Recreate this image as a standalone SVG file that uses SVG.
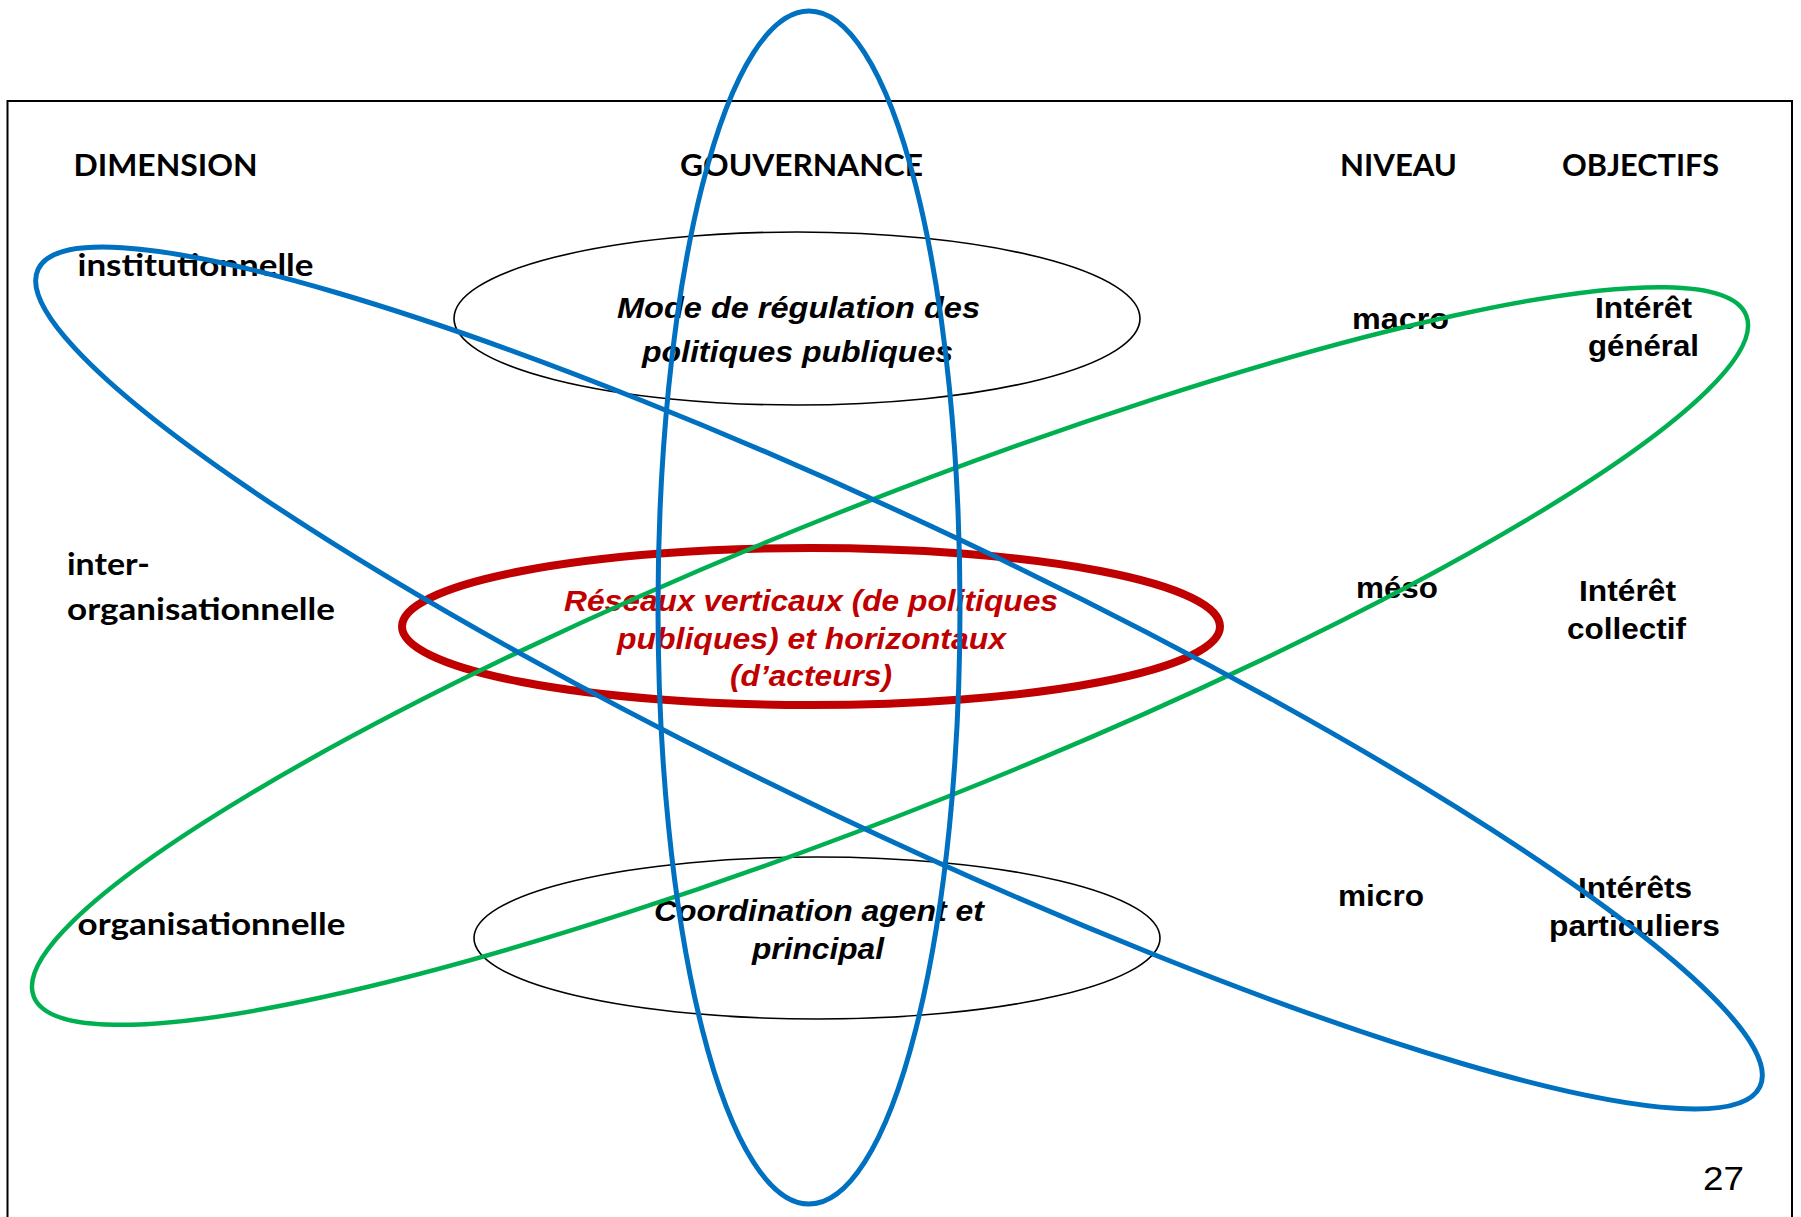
<svg xmlns="http://www.w3.org/2000/svg" width="1801" height="1217" viewBox="0 0 1801 1217">
<style>
.cal{font-family:Lato,"Open Sans","Liberation Sans",sans-serif;font-weight:bold;font-size:30px;fill:#000}
.ari{font-family:"Liberation Sans",Arial,sans-serif;font-weight:bold;font-size:30px;fill:#000}
.it{font-family:"Liberation Sans",Arial,sans-serif;font-weight:bold;font-style:italic;font-size:30px;fill:#000}
.red{fill:#C00000}
.thin{fill:none;stroke:#000;stroke-width:1.6}
.blue{fill:none;stroke:#0070C0;stroke-width:5}
.green{fill:none;stroke:#00B050;stroke-width:4.5}
</style>
<rect width="1801" height="1217" fill="#fff"/>
<path d="M7.5 1217 V101 H1792 V1217" fill="none" stroke="#000" stroke-width="2"/>

<g id="headers">
<text class="cal" x="73.5" y="176" textLength="184" lengthAdjust="spacingAndGlyphs">DIMENSION</text>
<text class="cal" x="680" y="176" textLength="243" lengthAdjust="spacingAndGlyphs">GOUVERNANCE</text>
<text class="cal" x="1340" y="176" textLength="117" lengthAdjust="spacingAndGlyphs">NIVEAU</text>
<text class="cal" x="1562" y="176" textLength="157" lengthAdjust="spacingAndGlyphs">OBJECTIFS</text>
</g>

<g id="dimensions">
<text class="cal" x="77.5" y="276" textLength="236" lengthAdjust="spacingAndGlyphs">institutionnelle</text>
<text class="cal" x="67" y="575" textLength="83" lengthAdjust="spacingAndGlyphs">inter-</text>
<text class="cal" x="67" y="620" textLength="268" lengthAdjust="spacingAndGlyphs">organisationnelle</text>
<text class="cal" x="77.5" y="935" textLength="268" lengthAdjust="spacingAndGlyphs">organisationnelle</text>
</g>

<g id="niveaux">
<text class="ari" x="1352" y="329" textLength="97" lengthAdjust="spacingAndGlyphs">macro</text>
<text class="ari" x="1356" y="598" textLength="82" lengthAdjust="spacingAndGlyphs">méso</text>
<text class="ari" x="1338" y="906" textLength="86" lengthAdjust="spacingAndGlyphs">micro</text>
</g>

<g id="objectifs">
<text class="ari" x="1595" y="318" textLength="97" lengthAdjust="spacingAndGlyphs">Intérêt</text>
<text class="ari" x="1588" y="356" textLength="111" lengthAdjust="spacingAndGlyphs">général</text>
<text class="ari" x="1579" y="601" textLength="97" lengthAdjust="spacingAndGlyphs">Intérêt</text>
<text class="ari" x="1567" y="639" textLength="119" lengthAdjust="spacingAndGlyphs">collectif</text>
<text class="ari" x="1578" y="898" textLength="114" lengthAdjust="spacingAndGlyphs">Intérêts</text>
<text class="ari" x="1549" y="936" textLength="171" lengthAdjust="spacingAndGlyphs">particuliers</text>
</g>

<g id="node-regulation">
<ellipse class="thin" cx="797" cy="318.5" rx="343" ry="86.5"/>
<text class="it" x="617" y="318" textLength="363" lengthAdjust="spacingAndGlyphs">Mode  de régulation des</text>
<text class="it" x="642" y="362" textLength="311" lengthAdjust="spacingAndGlyphs">politiques publiques</text>
</g>

<g id="node-coordination">
<ellipse class="thin" cx="817" cy="938" rx="343" ry="81"/>
<text class="it" x="654" y="921" textLength="330" lengthAdjust="spacingAndGlyphs">Coordination agent et</text>
<text class="it" x="752" y="959" textLength="132" lengthAdjust="spacingAndGlyphs">principal</text>
</g>

<g id="node-reseaux">
<ellipse cx="811" cy="626.5" rx="409" ry="78.5" fill="none" stroke="#C00000" stroke-width="8"/>
<text class="it red" x="564" y="611" textLength="494" lengthAdjust="spacingAndGlyphs">Réseaux verticaux (de politiques</text>
<text class="it red" x="617" y="649" textLength="389" lengthAdjust="spacingAndGlyphs">publiques) et horizontaux</text>
<text class="it red" x="730" y="686" textLength="162" lengthAdjust="spacingAndGlyphs">(d’acteurs)</text>
</g>

<g id="connectors">
<ellipse id="green-loop" class="green" cx="890" cy="656" rx="921.5" ry="152" transform="rotate(-21.7 890 656)"/>
<ellipse id="blue-diagonal" class="blue" cx="899" cy="678" rx="953" ry="151" transform="rotate(25.4 899 678)"/>
<ellipse id="blue-vertical" class="blue" cx="809" cy="607.5" rx="151" ry="596.5"/>
</g>

<g id="page-number">
<text x="1703" y="1190" font-family="'Liberation Sans',Arial,sans-serif" font-size="33" textLength="41" lengthAdjust="spacingAndGlyphs">27</text>
</g>
</svg>
